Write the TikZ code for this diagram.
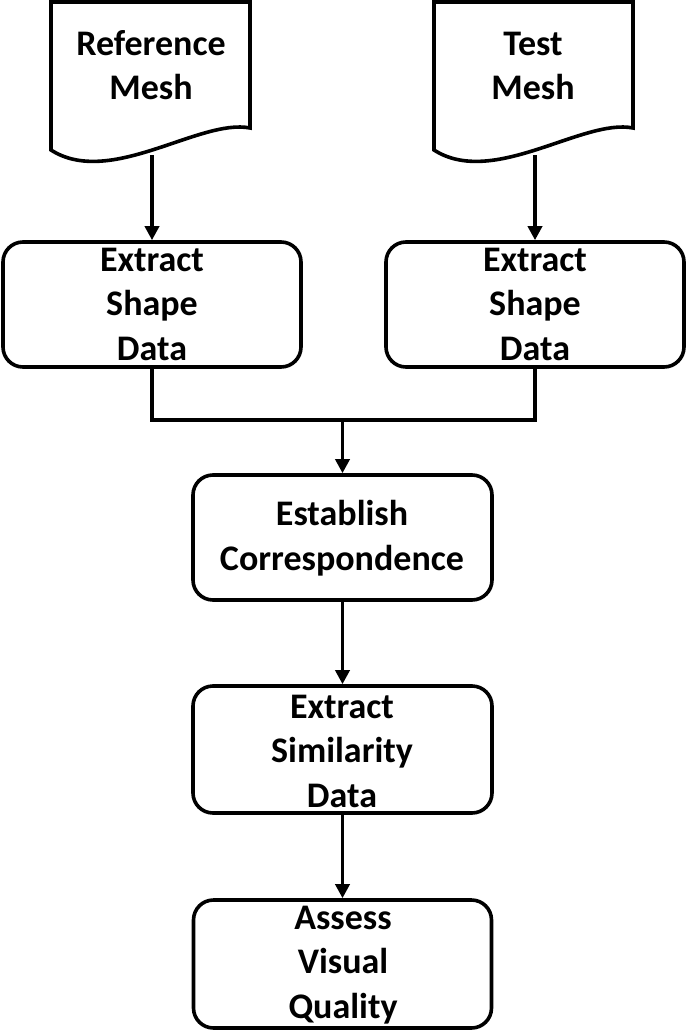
\documentclass[tikz,border=0pt]{standalone}
\usepackage{fontspec}
\setmainfont{Carlito}
\usetikzlibrary{arrows.meta}
\tikzset{
  boxline/.style={line width=3.6pt, draw=black},
  procbox/.style={boxline, rounded corners=20pt},
  lbl/.style={font=\fontsize{36}{44.5}\selectfont\bfseries, align=center, anchor=base, inner sep=0pt},
  flow/.style={line width=3.6pt, -{Triangle[length=14pt,width=14pt]}},
  plainline/.style={line width=4pt}
}
\begin{document}
\begin{tikzpicture}[x=1pt,y=-1pt]
\useasboundingbox (0,0) rectangle (685,1030);
% documents
\draw[boxline] (51,2) -- (250,2) -- (250,128) .. controls (200,118) and (110,188) .. (51,150) -- cycle;
\draw[boxline] (434,2) -- (633,2) -- (633,128) .. controls (583,118) and (493,188) .. (434,150) -- cycle;
\coordinate (refb) at (152,155);
\coordinate (testb) at (535,155);
\node[lbl] (reftxt) at (151,100) {Reference\\Mesh};
\node[lbl] (testtxt) at (533,100) {Test\\Mesh};
% process boxes
\node[procbox, minimum width=298pt, minimum height=125pt, inner sep=0pt] (esdl) at (152,304.5) {};
\node[procbox, minimum width=298pt, minimum height=125pt, inner sep=0pt] (esdr) at (535,304.5) {};
\node[procbox, minimum width=299pt, minimum height=125pt, inner sep=0pt] (ec) at (342.5,537.5) {};
\node[procbox, minimum width=299pt, minimum height=127pt, inner sep=0pt] (esim) at (342.5,749.5) {};
\node[procbox, minimum width=298pt, minimum height=128pt, inner sep=0pt] (avq) at (342.5,964) {};
\node[lbl] (esdltxt) at (152,360) {Extract\\Shape\\Data};
\node[lbl] (esdrtxt) at (535,360) {Extract\\Shape\\Data};
\node[lbl] (ectxt) at (342,570) {Establish\\Correspondence};
\node[lbl] (esimtxt) at (342,807) {Extract\\Similarity\\Data};
\node[lbl] (avqtxt) at (343,1018) {Assess\\Visual\\Quality};
% connectors
\draw[flow] (refb) -- (esdl.north);
\draw[flow] (testb) -- (esdr.north);
\coordinate (jl) at (esdl.south |- 0,420);
\coordinate (jr) at (esdr.south |- 0,420);
\coordinate (jm) at (ec.north |- 0,420);
\draw[plainline] (esdl.south) -- (jl) -- (jr) -- (esdr.south);
\draw[flow] (jm) -- (ec.north);
\draw[flow] (ec.south) -- (esim.north);
\draw[flow] (esim.south) -- (avq.north);
\end{tikzpicture}
\end{document}
